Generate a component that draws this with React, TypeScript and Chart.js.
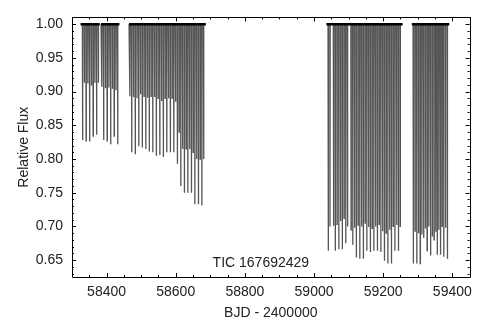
import { useEffect, useRef } from 'react';
import { Chart, registerables } from 'chart.js';

Chart.register(...registerables);

// ---- data ----
const segmentStarts = [58325, 58384, 58465, 59036, 59283];
const segmentEnds = [58380, 58437, 58687, 59256, 59391];

const primaryTimes = [
  58330.6, 58340.8, 58350.9, 58361.1, 58371.2, 58391.5, 58401.7, 58411.8, 58422.0, 58432.1,
  58472.7, 58482.9, 58493.0, 58503.2, 58513.3, 58523.5, 58533.6, 58543.8, 58553.9, 58564.1,
  58574.2, 58584.4, 58594.5, 58604.7, 58614.8, 58625.0, 58635.1, 58645.3, 58655.4, 58665.6, 58675.7,
  59041.1, 59061.4, 59071.6, 59081.7, 59091.9, 59112.2, 59122.3, 59132.5, 59142.6, 59152.8,
  59162.9, 59173.1, 59183.2, 59193.4, 59203.5, 59213.7, 59223.8, 59234.0, 59244.1,
  59287.1, 59297.1, 59307.1, 59317.1, 59327.1, 59337.1, 59347.1, 59356.3, 59365.7, 59375.1, 59385.7,
];
const primaryDepths = [
  0.828, 0.827, 0.826, 0.834, 0.836, 0.828, 0.827, 0.822, 0.834, 0.822,
  0.810, 0.807, 0.819, 0.817, 0.815, 0.811, 0.810, 0.805, 0.806, 0.803,
  0.810, 0.810, 0.810, 0.793, 0.760, 0.750, 0.750, 0.750, 0.733, 0.733, 0.731,
  0.664, 0.664, 0.666, 0.666, 0.675, 0.673, 0.654, 0.652, 0.652, 0.664,
  0.662, 0.664, 0.664, 0.662, 0.649, 0.645, 0.645, 0.664, 0.664,
  0.645, 0.645, 0.645, 0.683, 0.664, 0.657, 0.680, 0.658, 0.658, 0.655, 0.652,
];
const secondaryTimes = [
  58335.7, 58345.9, 58356.0, 58366.2, 58376.3, 58386.5, 58396.6, 58406.8, 58416.9, 58427.1,
  58467.7, 58477.8, 58488.0, 58498.1, 58508.3, 58518.4, 58528.6, 58538.7, 58548.9, 58559.0, 58569.2,
  58579.3, 58589.5, 58599.6, 58609.8, 58619.9, 58630.1, 58640.2, 58650.4, 58660.5, 58670.7, 58680.8,
  59046.2, 59056.4, 59066.5, 59076.7, 59086.8, 59097.0, 59107.1, 59117.3, 59127.4, 59137.6, 59147.7,
  59157.9, 59168.0, 59178.2, 59188.3, 59198.5, 59208.6, 59218.8, 59228.9, 59239.1, 59249.2,
  59292.1, 59302.1, 59312.1, 59322.1, 59332.1, 59342.1, 59352.0, 59361.0, 59370.4, 59380.4,
];
const secondaryDepths = [
  0.913, 0.912, 0.909, 0.913, 0.913, 0.907, 0.905, 0.906, 0.904, 0.902,
  0.893, 0.892, 0.890, 0.896, 0.893, 0.891, 0.893, 0.892, 0.890, 0.886, 0.890,
  0.890, 0.890, 0.885, 0.840, 0.815, 0.815, 0.815, 0.810, 0.800, 0.800, 0.800,
  0.700, 0.701, 0.703, 0.708, 0.712, 0.700, 0.695, 0.698, 0.702, 0.700, 0.705,
  0.699, 0.697, 0.700, 0.703, 0.693, 0.690, 0.695, 0.700, 0.702, 0.700,
  0.693, 0.690, 0.688, 0.697, 0.700, 0.685, 0.692, 0.695, 0.700, 0.698,
];
const baselineFlux = 1.0;

const xTickValues = [58400, 58600, 58800, 59000, 59200, 59400];
const yTickValues = [0.65, 0.7, 0.75, 0.8, 0.85, 0.9, 0.95, 1.0];
const X_MIN = 58300;
const X_MAX = 59450;
const Y_MIN = 0.625;
const Y_MAX = 1.01;
const X_MINOR_STEP = 50;
const Y_MINOR_STEP = 0.01;

const xTitle = 'BJD - 2400000';
const yTitle = 'Relative Flux';
const annotation = 'TIC 167692429';

const FONT = "'Liberation Sans', Arial, Helvetica, sans-serif";
const TEXT_COLOR = '#222';
const ECLIPSE_HALF_WIDTH = 0.6; // days, ingress/egress half-width

function buildCurve() {
  const ecl = primaryTimes
    .map((t, i) => ({ t, d: primaryDepths[i] }))
    .concat(secondaryTimes.map((t, i) => ({ t, d: secondaryDepths[i] })))
    .sort((a, b) => a.t - b.t);
  const pts: { x: number; y: number | null }[] = [];
  segmentStarts.forEach((s, k) => {
    const e = segmentEnds[k];
    pts.push({ x: s, y: baselineFlux });
    ecl
      .filter((q) => q.t > s && q.t < e)
      .forEach((q) => {
        pts.push({ x: q.t - ECLIPSE_HALF_WIDTH, y: baselineFlux });
        pts.push({ x: q.t, y: q.d });
        pts.push({ x: q.t + ECLIPSE_HALF_WIDTH, y: baselineFlux });
      });
    pts.push({ x: e, y: baselineFlux });
    pts.push({ x: e + 0.5, y: null });
  });
  return pts;
}

function buildBaseline() {
  const pts: { x: number; y: number | null }[] = [];
  segmentStarts.forEach((s, k) => {
    pts.push({ x: s, y: baselineFlux });
    pts.push({ x: segmentEnds[k], y: baselineFlux });
    pts.push({ x: segmentEnds[k] + 0.5, y: null });
  });
  return pts;
}

const framePlugin = {
  id: 'frameTicks',
  afterDatasetsDraw(chart: any) {
    const { ctx, chartArea, scales } = chart;
    const { left, right, top, bottom } = chartArea;
    const xs = scales.x;
    const ys = scales.y;
    ctx.save();
    ctx.strokeStyle = '#000';
    ctx.lineWidth = 1;
    ctx.beginPath();
    ctx.rect(Math.round(left) + 0.5, Math.round(top) + 0.5, Math.round(right - left), Math.round(bottom - top));
    ctx.stroke();
    ctx.beginPath();
    for (let v = X_MIN; v <= X_MAX + 1e-6; v += X_MINOR_STEP) {
      const px = Math.round(xs.getPixelForValue(v)) + 0.5;
      const major = xTickValues.includes(v);
      const len = major ? 4 : 2;
      ctx.moveTo(px, bottom);
      ctx.lineTo(px, bottom - len);
      ctx.moveTo(px, top);
      ctx.lineTo(px, top + len);
    }
    for (let i = 0; ; i++) {
      const v = Math.round((0.63 + i * Y_MINOR_STEP) * 1000) / 1000;
      if (v > Y_MAX + 1e-9) break;
      const py = Math.round(ys.getPixelForValue(v)) + 0.5;
      const major = yTickValues.some((t) => Math.abs(t - v) < 1e-6);
      const len = major ? 4 : 2;
      ctx.moveTo(left, py);
      ctx.lineTo(left + len, py);
      ctx.moveTo(right, py);
      ctx.lineTo(right - len, py);
    }
    ctx.stroke();

    ctx.fillStyle = TEXT_COLOR;
    ctx.font = `14px ${FONT}`;
    ctx.textAlign = 'center';
    ctx.textBaseline = 'middle';
    ctx.fillText(annotation, left + 0.475 * (right - left), bottom - 14);
    ctx.fillText(xTitle, (left + right) / 2, 313);
    ctx.translate(24, (top + bottom) / 2);
    ctx.rotate(-Math.PI / 2);
    ctx.fillText(yTitle, 0, 0);
    ctx.restore();
  },
};

export default function App() {
  const ref = useRef<HTMLCanvasElement>(null);
  useEffect(() => {
    document.body.style.margin = '0';
    const chart = new Chart(ref.current as HTMLCanvasElement, {
      type: 'line',
      data: {
        datasets: [
          {
            data: buildCurve() as any,
            borderColor: '#555555',
            borderWidth: 1.3,
            pointRadius: 0,
            tension: 0,
            spanGaps: false,
            order: 2,
          },
          {
            data: buildBaseline() as any,
            borderColor: '#000',
            borderWidth: 2.5,
            pointRadius: 0,
            tension: 0,
            spanGaps: false,
            order: 1,
          },
        ],
      },
      options: {
        responsive: false,
        animation: false,
        devicePixelRatio: 1,
        layout: { padding: { top: 9, right: 5, left: 0, bottom: 0 } },
        plugins: { legend: { display: false }, tooltip: { enabled: false } },
        scales: {
          x: {
            type: 'linear',
            min: X_MIN,
            max: X_MAX,
            grid: { display: false, drawTicks: false },
            border: { display: false },
            ticks: {
              font: { family: FONT, size: 14 },
              color: TEXT_COLOR,
              padding: 7,
              maxRotation: 0,
              autoSkip: false,
              callback: (v: any) => String(v),
            },
            afterBuildTicks: (s: any) => {
              s.ticks = xTickValues.map((v) => ({ value: v }));
            },
            afterFit: (s: any) => {
              s.height = 44;
            },
          },
          y: {
            type: 'linear',
            min: Y_MIN,
            max: Y_MAX,
            grid: { display: false, drawTicks: false },
            border: { display: false },
            ticks: {
              font: { family: FONT, size: 14 },
              color: TEXT_COLOR,
              padding: 9,
              autoSkip: false,
              callback: (v: any) => Number(v).toFixed(2),
            },
            afterBuildTicks: (s: any) => {
              s.ticks = yTickValues.map((v) => ({ value: v }));
            },
            afterFit: (s: any) => {
              s.width = 72;
            },
          },
        },
      },
      plugins: [framePlugin],
    });
    return () => chart.destroy();
  }, []);
  return (
    <div style={{ width: 479, height: 321 }}>
      <canvas ref={ref} width={479} height={321} style={{ display: 'block', width: '479px', height: '321px' }} />
    </div>
  );
}
